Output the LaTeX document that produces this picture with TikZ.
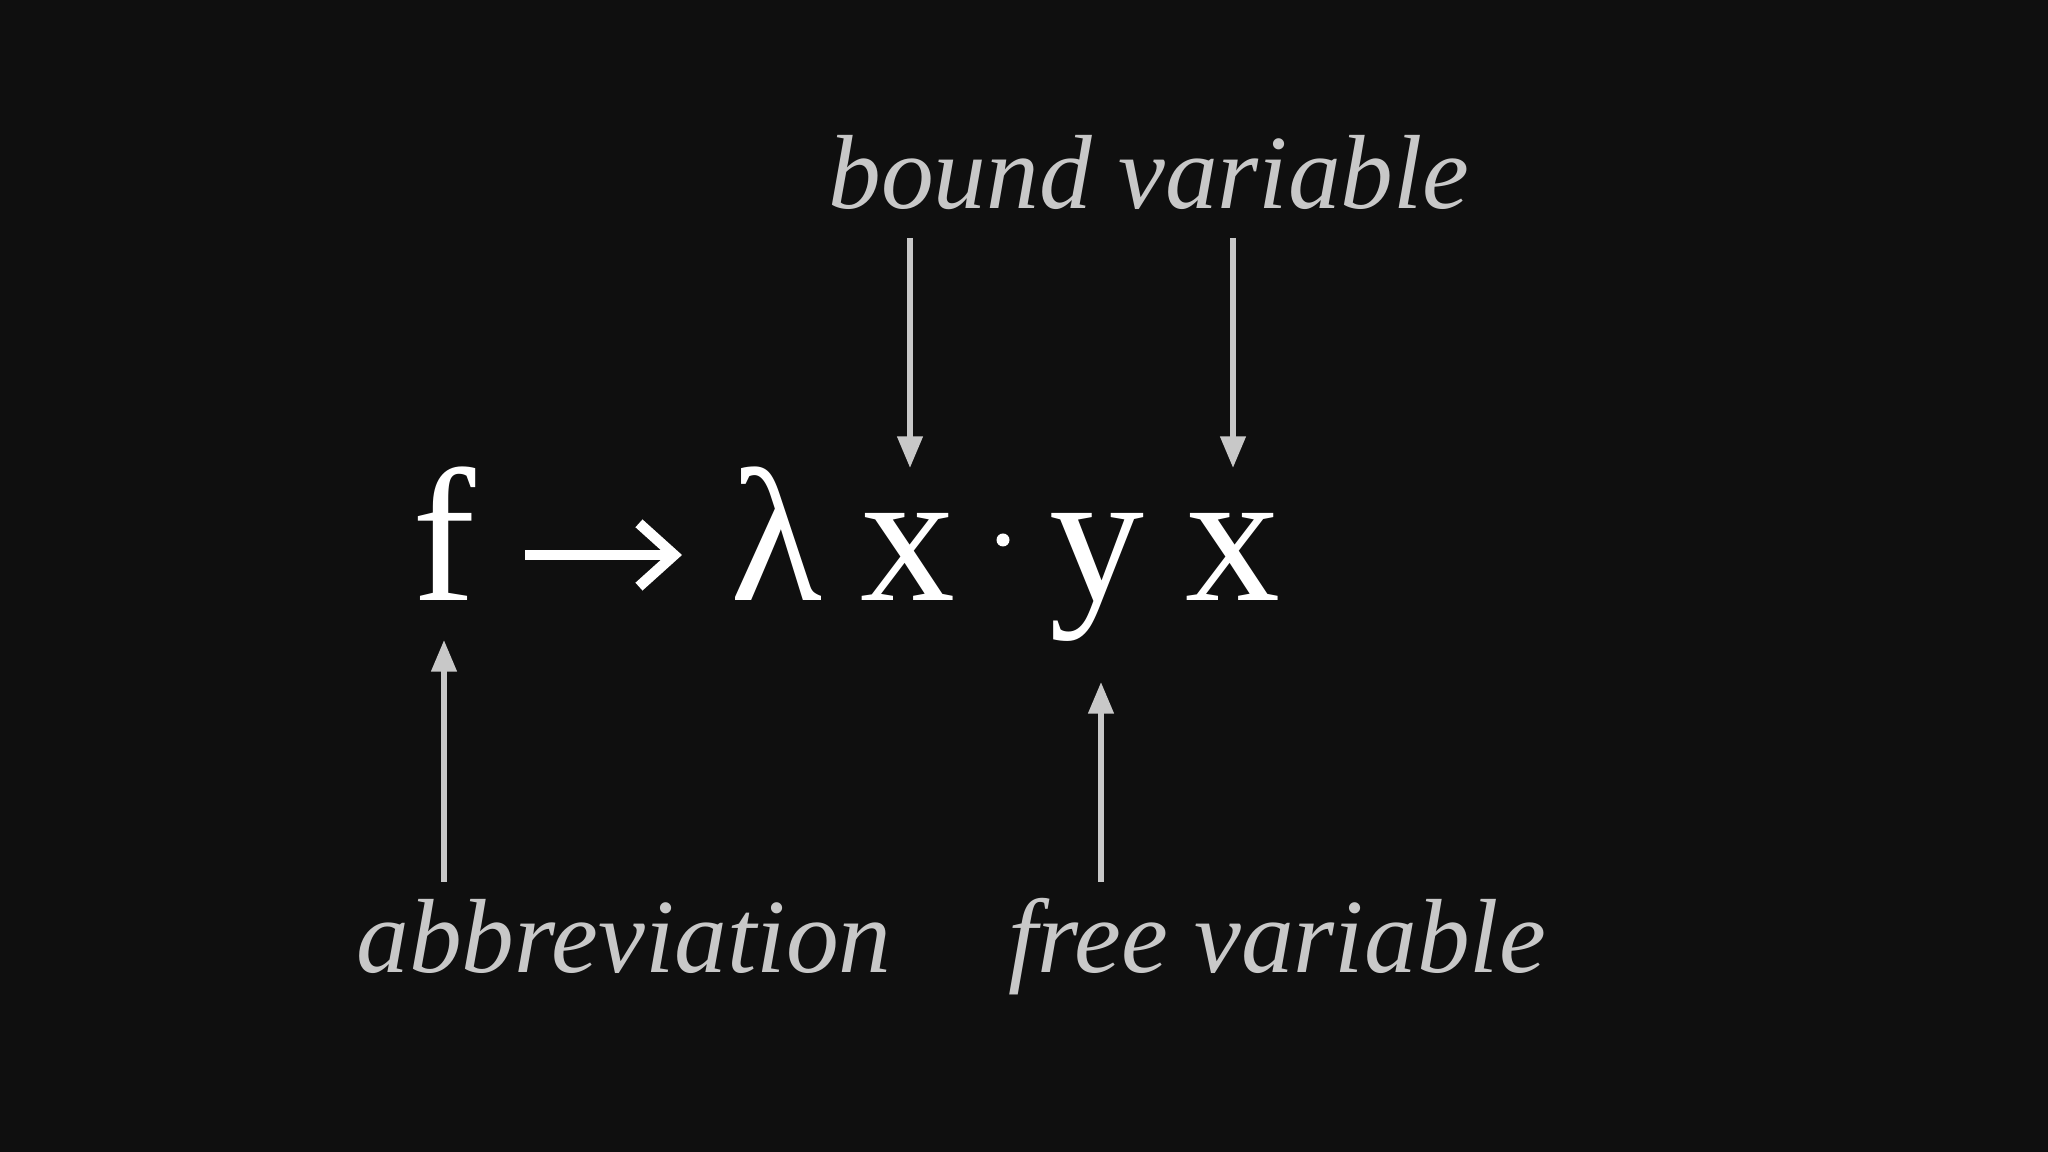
\documentclass[tikz,border=0pt]{standalone}
\usepackage{fontspec}
\setmainfont{Liberation Serif}
\usetikzlibrary{arrows.meta}
\definecolor{bg}{HTML}{0F0F0F}
\definecolor{lab}{HTML}{C8C8C8}
\tikzset{
 glyph/.style={text=white,anchor=base,inner sep=0pt,font=\fontsize{54}{60}\selectfont},
 lbl/.style={text=lab,anchor=base,inner sep=0pt,font=\fontsize{30}{34}\selectfont\itshape},
 pointer/.style={draw=lab,line width=1.6pt,-{Triangle[length=9pt,width=7pt]}}
}
\begin{document}
\begin{tikzpicture}
\fill[bg] (0,0) rectangle (20.48,11.52);
\useasboundingbox (0,0) rectangle (20.48,11.52);
\node[glyph] (f) at (4.44,5.51) {f};
\node[glyph] (lam) at (7.77,5.51) {λ};
\node[glyph] (x1) at (9.08,5.51) {x};
\node[glyph] (y) at (10.97,5.51) {y};
\node[glyph] (x2) at (12.33,5.51) {x};
\fill[white] (10.03,6.12) circle (0.065);
\coordinate (a1) at (5.25,5.97);
\coordinate (a2) at (6.82,5.97);
\draw[white,line width=3pt,-{Straight Barb[length=10pt,width=18pt]}] (a1) -- (a2);
\node[lbl] (bv) at (11.49,9.43) {bound variable};
\node[lbl] (ab) at (6.24,1.79) {abbreviation};
\node[lbl] (fv) at (12.77,1.79) {free variable};
\coordinate (t1) at (9.10,9.14); \coordinate (t1e) at (9.10,6.84);
\coordinate (t2) at (12.33,9.14); \coordinate (t2e) at (12.33,6.84);
\coordinate (b1) at (4.44,2.70); \coordinate (b1e) at (4.44,5.12);
\coordinate (b2) at (11.01,2.70); \coordinate (b2e) at (11.01,4.70);
\draw[pointer] (t1) -- (t1e);
\draw[pointer] (t2) -- (t2e);
\draw[pointer] (b1) -- (b1e);
\draw[pointer] (b2) -- (b2e);
\end{tikzpicture}
\end{document}
